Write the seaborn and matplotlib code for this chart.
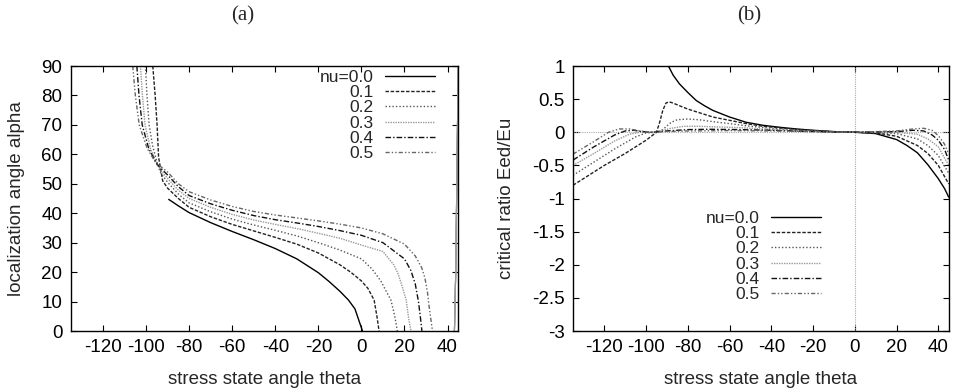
import matplotlib
matplotlib.use("Agg")
import matplotlib.pyplot as plt
import seaborn as sns
from matplotlib.ticker import FuncFormatter, MultipleLocator

# ── данные ────────────────────────────────────────────────────
nu_labels = ["nu=0.0", "0.1", "0.2", "0.3", "0.4", "0.5"]

# (a) localization angle alpha vs theta
a_x_00 = [-89.5, -85, -80, -70, -60, -50, -40, -30, -20, -15, -10, -6, -3, 0.5]
a_y_00 = [44.7, 42.5, 40.2, 36.8, 33.8, 31.0, 28.0, 24.5, 19.8, 16.8, 13.5, 10.5, 7.5, 0.0]

a_x_01 = [-96.9, -95.8, -94.9, -94.2, -92.3, -90, -85, -80, -70, -60, -50, -40, -30, -20,
          -10, -5, 0, 3, 5.9, 7.2, 8.2]
a_y_01 = [90, 80, 70, 59, 51, 48.5, 45, 42, 38.8, 36.2, 34, 31.8, 29.5, 26.5,
          22.5, 20, 17, 14.5, 10.5, 5, 0]

a_x_02 = [-100.3, -99.6, -98.6, -97, -95, -93.5, -90, -85, -80, -70, -60, -50, -40, -30,
          -20, -10, 0, 5, 9, 11.5, 13.7, 15.5, 16.7]
a_y_02 = [90, 80, 70, 63, 57.5, 54, 50.5, 46.5, 43.5, 40.5, 38, 36, 34.2, 32.3,
          30, 27.5, 24.5, 21, 17, 13.5, 10.5, 5, 0]

a_x_03 = [-102.6, -101.7, -100.5, -98, -95, -93.5, -90, -85, -80, -70, -60, -50, -40, -30,
          -20, -10, 0, 10, 15, 17, 19, 20.8, 22, 23]
a_y_03 = [90, 80, 70, 62, 57, 55, 51.8, 47.8, 45, 42, 39.6, 37.7, 36.2, 34.8,
          33.2, 31.5, 29.2, 27, 22.5, 19.5, 15, 10.5, 4, 0]

a_x_04 = [-104.3, -103.3, -101.8, -98.8, -95, -93.5, -90, -85, -80, -70, -60, -50, -40, -30,
          -20, -10, 0, 10, 20, 23, 25, 26.5, 27.5, 28.1]
a_y_04 = [90, 80, 70, 62, 56.8, 55.5, 53, 49, 46, 43.2, 41, 39.2, 37.8, 36.7,
          35.5, 34.1, 32.5, 30, 24.5, 20.5, 16, 10, 4, 0]

a_x_05 = [-106.2, -105, -103.2, -99.5, -95, -93.5, -90, -85, -80, -70, -60, -50, -40, -30,
          -20, -10, 0, 10, 20, 25, 28, 29.5, 30.7, 31.5, 33]
a_y_05 = [90, 80, 70, 62, 56.5, 56, 54, 50, 47.3, 44.5, 42.3, 40.6, 39.4, 38.4,
          37.4, 36.3, 35, 33, 29.5, 25.5, 21.5, 18, 13, 8, 0]

# ветка у правого края (theta ~ 43..45)
a_edge_x = [43.2, 43.8, 44.3, 44.7, 45.0]
a_edge_y = [0, 20, 50, 75, 90]

# (b) critical ratio Eed/Eu vs theta
b_x_00 = [-89.3, -87, -84, -80, -76, -72, -68, -64, -60, -52, -44, -36, -28, -20, -10, 0,
          10, 20, 25, 30, 35, 40, 43, 45]
b_y_00 = [1.0, 0.86, 0.73, 0.6, 0.48, 0.40, 0.33, 0.28, 0.23, 0.15, 0.105, 0.075, 0.05,
          0.03, 0.01, 0, -0.02, -0.11, -0.2, -0.31, -0.49, -0.7, -0.85, -0.98]

b_x_01 = [-135, -120, -110, -100, -95, -93.5, -92, -90.5, -89, -87, -84, -80, -74, -68, -60,
          -52, -44, -36, -28, -20, -10, 0, 10, 20, 30, 35, 40, 45]
b_y_01 = [-0.8, -0.5, -0.32, -0.12, 0.0, 0.15, 0.33, 0.44, 0.46, 0.44, 0.4, 0.35, 0.29,
          0.23, 0.18, 0.13, 0.09, 0.065, 0.04, 0.025, 0.008, 0, -0.01, -0.06, -0.2,
          -0.32, -0.5, -0.78]

b_x_02 = [-135, -125, -115, -105, -100, -95, -92, -88, -85, -80, -75, -68, -60, -50, -40,
          -30, -20, -10, 0, 20, 30, 35, 40, 45]
b_y_02 = [-0.65, -0.45, -0.25, -0.07, -0.01, 0.0, 0.04, 0.15, 0.19, 0.2, 0.19, 0.16,
          0.13, 0.09, 0.06, 0.04, 0.02, 0.005, 0, -0.02, -0.1, -0.2, -0.35, -0.62]

b_x_03 = [-135, -125, -115, -108, -103, -98, -93, -88, -82, -75, -65, -55, -45, -35, -20,
          -10, 0, 20, 30, 35, 40, 45]
b_y_03 = [-0.5, -0.32, -0.13, -0.03, 0.0, 0.0, 0.02, 0.06, 0.09, 0.09, 0.08, 0.07, 0.05,
          0.035, 0.015, 0.005, 0, 0.0, -0.03, -0.1, -0.22, -0.5]

b_x_04 = [-135, -125, -115, -110, -106, -102, -97, -90, -80, -70, -55, -40, -25, -10, 0,
          20, 28, 33, 37, 40, 43, 45]
b_y_04 = [-0.42, -0.22, -0.04, 0.02, 0.03, 0.01, 0.0, 0.02, 0.04, 0.045, 0.04, 0.03,
          0.015, 0.004, 0, 0.01, 0.03, 0.02, -0.04, -0.12, -0.26, -0.42]

b_x_05 = [-135, -125, -118, -113, -108, -103, -97, -90, -80, -60, -40, -20, 0,
          20, 28, 33, 37, 40, 43, 45]
b_y_05 = [-0.33, -0.14, 0.0, 0.05, 0.05, 0.02, 0.0, 0.01, 0.02, 0.025, 0.02, 0.01, 0,
          0.02, 0.05, 0.06, 0.03, -0.05, -0.18, -0.33]

a_series = [(a_x_00, a_y_00), (a_x_01, a_y_01), (a_x_02, a_y_02),
            (a_x_03, a_y_03), (a_x_04, a_y_04), (a_x_05, a_y_05)]
b_series = [(b_x_00, b_y_00), (b_x_01, b_y_01), (b_x_02, b_y_02),
            (b_x_03, b_y_03), (b_x_04, b_y_04), (b_x_05, b_y_05)]

# стили линий в духе gnuplot
line_styles = [
    dict(color="black", ls="-"),
    dict(color="#222222", ls=(0, (2.5, 1.2))),
    dict(color="#555555", ls=(0, (1, 1.5))),
    dict(color="#999999", ls=(0, (1, 0.8))),
    dict(color="#111111", ls=(0, (4, 1.5, 1, 1.5))),
    dict(color="#666666", ls=(0, (3, 1.5, 1, 1.5, 1, 1.5))),
]

FS = 13.5
LEG_FS = 12.5

# ── оформление ────────────────────────────────────────────────
sns.set_style("ticks")
plt.rcParams["font.family"] = ["Liberation Sans", "DejaVu Sans"]
plt.rcParams["axes.unicode_minus"] = False
plt.rcParams["font.size"] = FS

fig = plt.figure(figsize=(9.56, 3.92), dpi=100)
ax1 = fig.add_axes([0.074, 0.1556, 0.4054, 0.676])
ax2 = fig.add_axes([0.5994, 0.1556, 0.393, 0.676])

# ── (a) ───────────────────────────────────────────────────────
for (xs, ys), lab, st in zip(a_series, nu_labels, line_styles):
    sns.lineplot(x=xs, y=ys, ax=ax1, sort=False, estimator=None, label=lab,
                 color=st["color"], linestyle=st["ls"], linewidth=1.0)
    sns.lineplot(x=a_edge_x, y=a_edge_y, ax=ax1, sort=False, estimator=None,
                 color="#999999", linewidth=0.8)
ax1.set_xlim(-135, 45)
ax1.set_ylim(0, 90)
ax1.xaxis.set_major_locator(MultipleLocator(20))
ax1.yaxis.set_major_locator(MultipleLocator(10))
ax1.set_xlabel("stress state angle theta", fontsize=FS)
ax1.set_ylabel("localization angle alpha", fontsize=FS)

# ── (b) ───────────────────────────────────────────────────────
ax2.axhline(0, color="#aaaaaa", linestyle=(0, (1, 1)), linewidth=0.8, zorder=1)
ax2.axvline(0, color="#aaaaaa", linestyle=(0, (1, 1)), linewidth=0.8, zorder=1)
for (xs, ys), lab, st in zip(b_series, nu_labels, line_styles):
    sns.lineplot(x=xs, y=ys, ax=ax2, sort=False, estimator=None, label=lab,
                 color=st["color"], linestyle=st["ls"], linewidth=1.0)
ax2.set_xlim(-135, 45)
ax2.set_ylim(-3, 1)
ax2.xaxis.set_major_locator(MultipleLocator(20))
ax2.yaxis.set_major_locator(MultipleLocator(0.5))
ax2.yaxis.set_major_formatter(FuncFormatter(lambda v, p: "%g" % v))
ax2.set_xlabel("stress state angle theta", fontsize=FS)
ax2.set_ylabel("critical ratio Eed/Eu", fontsize=FS)

for ax in (ax1, ax2):
    ax.tick_params(direction="in", length=4, width=0.8, top=True, right=True,
                   labelsize=FS, pad=6, colors="black")
    for sp in ax.spines.values():
        sp.set_visible(True)
        sp.set_linewidth(1.0)
        sp.set_color("black")
    ax.xaxis.set_major_formatter(FuncFormatter(lambda v, p: "%g" % v))
    ax.xaxis.set_label_coords(0.5, -0.15)

ax1.yaxis.set_label_coords(-0.118, 0.5)
ax2.yaxis.set_label_coords(-0.155, 0.5)

leg_kw = dict(loc="upper right", frameon=False, markerfirst=False, fontsize=LEG_FS,
              handlelength=2.9, handletextpad=0.65, labelspacing=0.0,
              borderpad=0, borderaxespad=0, bbox_transform=fig.transFigure)
ax1.legend(bbox_to_anchor=(435 / 956, 1 - 70 / 392), **leg_kw)
ax2.legend(bbox_to_anchor=(821 / 956, 1 - 211 / 392), **leg_kw)

fig.text(243 / 956, 1 - 16 / 392, "(a)", ha="center", va="center",
         fontsize=15, family=["Liberation Serif", "DejaVu Serif"])
fig.text(749 / 956, 1 - 16 / 392, "(b)", ha="center", va="center",
         fontsize=15, family=["Liberation Serif", "DejaVu Serif"])

plt.savefig("out.png", dpi=100)
